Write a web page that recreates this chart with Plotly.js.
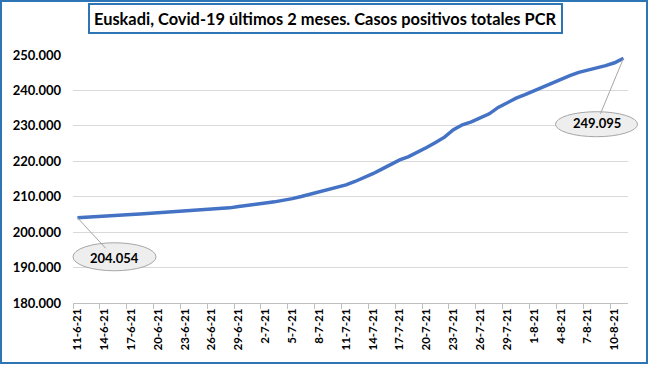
<!DOCTYPE html>
<html><head><meta charset="utf-8">
<script src="https://cdn.plot.ly/plotly-3.0.1.min.js"></script>
<style>html,body{margin:0;padding:0;background:#fff}#chart{width:650px;height:366px}</style>
</head><body><div id="chart"></div>
<script>
const dates = [
  '11-6-21','12-6-21','13-6-21','14-6-21','15-6-21','16-6-21','17-6-21','18-6-21','19-6-21','20-6-21',
  '21-6-21','22-6-21','23-6-21','24-6-21','25-6-21','26-6-21','27-6-21','28-6-21','29-6-21','30-6-21',
  '1-7-21','2-7-21','3-7-21','4-7-21','5-7-21','6-7-21','7-7-21','8-7-21','9-7-21','10-7-21',
  '11-7-21','12-7-21','13-7-21','14-7-21','15-7-21','16-7-21','17-7-21','18-7-21','19-7-21','20-7-21',
  '21-7-21','22-7-21','23-7-21','24-7-21','25-7-21','26-7-21','27-7-21','28-7-21','29-7-21','30-7-21',
  '31-7-21','1-8-21','2-8-21','3-8-21','4-8-21','5-8-21','6-8-21','7-8-21','8-8-21','9-8-21',
  '10-8-21','11-8-21'
];
const casos = [
  204054, 204250, 204420, 204580, 204720, 204860, 205000, 205150, 205300, 205450,
  205600, 205750, 205900, 206050, 206200, 206350, 206500, 206850, 207250, 207650,
  207950, 208250, 208550, 208900, 209450, 210050, 210700, 211300, 212000, 212650,
  213350, 214300, 215350, 216500, 217800, 219100, 220400, 221300, 222500, 223900,
  225300, 226800, 228900, 230300, 231100, 232200, 233400, 235200, 236600, 237800,
  238800, 239900, 240900, 242200, 243200, 244200, 245100, 245700, 246400, 247000,
  247800, 249095
];
const titleText = 'Euskadi, Covid-19 últimos 2 meses. Casos positivos totales PCR';
const yMin = 180000, yMax = 250000, yStep = 10000;

// layout constants
const W = 650, H = 366;
const M = {l: 73, r: 22, t: 55, b: 63};
const PW = W - M.l - M.r, PH = H - M.t - M.b;
const blue = '#2E75B6';
const FONT = 'Lato, "Open Sans", sans-serif';
const px2paperX = p => (p - M.l) / PW;
const px2paperY = p => (H - M.b - p) / PH;

function fmt(v) { return String(v).replace(/\B(?=(\d{3})+(?!\d))/g, '.'); }

const iFirst = 0, iLast = casos.length - 1;
const xFrac = i => (i + 0.5) / dates.length;
const yFrac = v => (v - yMin) / (yMax - yMin);

const trace = {
  type: 'scatter', mode: 'lines', x: dates, y: casos,
  line: {color: '#4472C4', width: 3.5}, hoverinfo: 'skip'
};

function ellipse(i, dx, dy, rx, ry) {
  return {
    type: 'circle', xref: 'x domain', yref: 'y domain',
    xsizemode: 'pixel', ysizemode: 'pixel',
    xanchor: xFrac(i), yanchor: yFrac(casos[i]),
    x0: dx - rx, x1: dx + rx, y0: -dy - ry, y1: -dy + ry,
    fillcolor: '#eeeeee', line: {color: '#a6a6a6', width: 1}, layer: 'above'
  };
}
function label(i, dx, dy) {
  return {
    x: dates[i], y: casos[i], xref: 'x', yref: 'y',
    text: fmt(casos[i]), showarrow: true, arrowhead: 0, arrowwidth: 1,
    arrowcolor: '#a6a6a6', ax: dx, ay: dy, standoff: 0,
    font: {family: FONT, size: 13, color: '#000', weight: 700}
  };
}

const layout = {
  width: W, height: H,
  margin: M,
  paper_bgcolor: '#fff', plot_bgcolor: '#fff',
  showlegend: false,
  separators: ',.',
  font: {family: FONT},
  xaxis: {
    type: 'category', range: [-0.5, dates.length - 0.5],
    tickson: 'boundaries', dtick: 3, ticks: 'outside', ticklen: 5,
    tickcolor: '#bfbfbf', showline: true, linecolor: '#bfbfbf', linewidth: 1,
    showgrid: false, tickangle: -90, fixedrange: true,
    tickfont: {family: FONT, size: 11.5, color: '#000', weight: 700}
  },
  yaxis: {
    range: [yMin, yMax], dtick: yStep, tick0: yMin, tickformat: ',d',
    showgrid: true, gridcolor: '#d9d9d9', gridwidth: 1,
    showline: false, zeroline: false, ticks: '', ticklabelstandoff: 11,
    fixedrange: true,
    tickfont: {family: FONT, size: 13, color: '#000', weight: 700}
  },
  shapes: [
    {type: 'rect', xref: 'paper', yref: 'paper',
     x0: px2paperX(1), x1: px2paperX(647), y0: px2paperY(363), y1: px2paperY(1),
     line: {color: blue, width: 2}, fillcolor: 'rgba(0,0,0,0)', layer: 'above'},
    ellipse(iFirst, 37, 39, 41.5, 14),
    ellipse(iLast, -27, 66, 41, 12.5)
  ],
  annotations: [
    {xref: 'paper', yref: 'paper', x: px2paperX(325.5), y: px2paperY(19),
     xanchor: 'center', yanchor: 'middle', showarrow: false,
     text: titleText, bordercolor: blue, borderwidth: 2, borderpad: 4, bgcolor: '#fff',
     font: {family: FONT, size: 16.4, color: '#000', weight: 700}},
    label(iFirst, 37, 40),
    label(iLast, -27, 65)
  ]
};

Plotly.newPlot('chart', [trace], layout, {displayModeBar: false, staticPlot: true});
</script>
</body></html>
